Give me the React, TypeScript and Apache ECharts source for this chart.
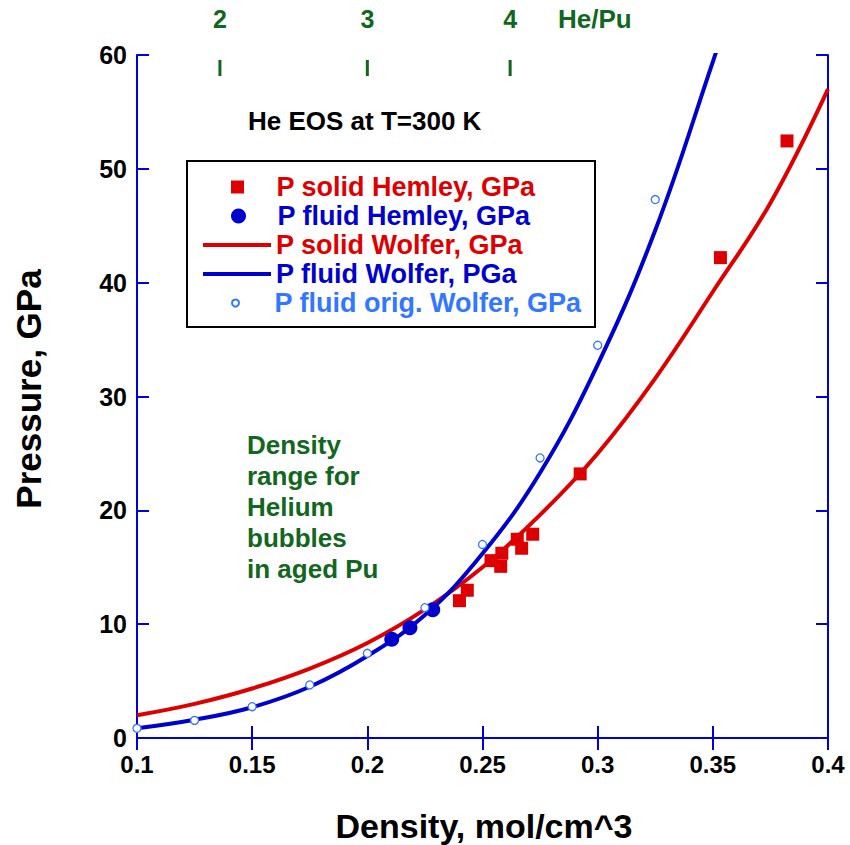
import React, { useEffect, useRef } from 'react';
import * as echarts from 'echarts';

// ---- data ----
const solidHemleyDensity = [0.24, 0.2434, 0.2537, 0.2579, 0.2584, 0.2651, 0.267, 0.2718, 0.2924, 0.3533, 0.3822];
const solidHemleyPressure = [12.06, 12.98, 15.58, 15.08, 16.23, 17.46, 16.67, 17.9, 23.2, 42.2, 52.45];

const fluidHemleyDensity = [0.2106, 0.2185, 0.2284];
const fluidHemleyPressure = [8.67, 9.69, 11.27];

const solidWolferDensity = [0.1, 0.125, 0.15, 0.175, 0.2, 0.225, 0.25, 0.275, 0.3, 0.325, 0.35, 0.375, 0.4];
const solidWolferPressure = [2.0, 3.0, 4.35, 6.1, 8.35, 11.3, 15.0, 19.6, 25.0, 31.6, 39.2, 47.0, 57.0];

const fluidWolferDensity = [0.1, 0.125, 0.15, 0.175, 0.2, 0.225, 0.25, 0.275, 0.3, 0.325, 0.35, 0.355];
const fluidWolferPressure = [0.85, 1.6, 2.7, 4.5, 7.2, 10.8, 16.2, 23.3, 32.8, 44.6, 59.4, 62.5];

const origWolferDensity = [0.1, 0.125, 0.15, 0.175, 0.2, 0.225, 0.25, 0.275, 0.3, 0.325];
const origWolferPressure = [0.85, 1.55, 2.75, 4.66, 7.44, 11.45, 17.0, 24.6, 34.5, 47.3];

const heRatio = [2, 3, 4];
const heRatioDensity = [0.136, 0.2, 0.262];

const seriesNames = [
  'P solid Hemley, GPa',
  'P fluid Hemley, GPa',
  'P solid Wolfer, GPa',
  'P fluid Wolfer, PGa',
  'P fluid orig. Wolfer, GPa',
];

const RED = '#dd0000';
const BLUE = '#0000cc';
const LIGHT = '#3377ff';
const GREEN = '#12661e';
const AXIS = '#0000dd';
const FONT = '"Liberation Sans", Arial, Helvetica, sans-serif';

const zip = (xs: number[], ys: number[]) => xs.map((x, i) => [x, ys[i]]);

export default function App() {
  const ref = useRef<HTMLDivElement>(null);

  useEffect(() => {
    const chart = echarts.init(ref.current!, null, { renderer: 'svg' });

    const legendSpec = [
      { name: seriesNames[0], color: RED, h: 13, center: 187, icon: 'path://M0 0h10v10h-10z', left: 231 },
      { name: seriesNames[1], color: BLUE, h: 15, center: 216, icon: 'circle', left: 231 },
      { name: seriesNames[2], color: RED, h: 4, center: 245, icon: 'rect', left: 203 },
      { name: seriesNames[3], color: BLUE, h: 4, center: 274, icon: 'rect', left: 203 },
      { name: seriesNames[4], color: LIGHT, h: 7, center: 303, icon: 'circle', left: 231 },
    ];

    const axisCommon = {
      axisLine: { show: true, lineStyle: { color: AXIS, width: 2 } },
      axisTick: { show: true, inside: true, length: 12, lineStyle: { color: AXIS, width: 2 } },
      splitLine: { show: false },
    };

    const option: any = {
      animation: false,
      backgroundColor: '#ffffff',
      textStyle: { fontFamily: FONT },
      grid: { left: 137, right: 22, top: 55, bottom: 107, containLabel: false },
      xAxis: [
        {
          type: 'value', position: 'bottom', min: 0.1, max: 0.4, interval: 0.05,
          ...axisCommon,
          axisLabel: { color: '#000', fontSize: 24, fontWeight: 'bold', fontFamily: FONT, margin: 14 },
        },
        {
          type: 'value', position: 'top', min: 0.1, max: 0.4, interval: 0.05,
          ...axisCommon,
          axisLabel: { show: false },
        },
      ],
      yAxis: [
        {
          type: 'value', position: 'left', min: 0, max: 60, interval: 10,
          ...axisCommon,
          axisLabel: { color: '#000', fontSize: 25, fontWeight: 'bold', fontFamily: FONT, margin: 10 },
        },
        {
          type: 'value', position: 'right', min: 0, max: 60, interval: 10,
          ...axisCommon,
          axisLabel: { show: false },
        },
      ],
      legend: legendSpec.map((l) => ({
        data: [{ name: l.name, icon: l.icon }],
        left: l.left,
        top: l.center - 14,
        padding: 0,
        itemWidth: 68,
        itemHeight: l.h,
        symbolKeepAspect: true,
        selectedMode: false,
        z: 5,
        textStyle: { color: l.color, fontSize: 27, fontWeight: 'bold', fontFamily: FONT, lineHeight: 28 },
      })),
      graphic: [
        {
          type: 'rect', z: 3,
          shape: { x: 187, y: 161, width: 408, height: 166 },
          style: { fill: '#ffffff', stroke: '#000000', lineWidth: 2 },
        },
        {
          type: 'text', x: 248, y: 121,
          style: { text: 'He EOS at T=300 K', fill: '#000', fontSize: 26, fontWeight: 'bold', fontFamily: FONT, align: 'left', verticalAlign: 'middle' },
        },
        {
          type: 'text', x: 558, y: 19,
          style: { text: 'He/Pu', fill: GREEN, fontSize: 26, fontWeight: 'bold', fontFamily: FONT, align: 'left', verticalAlign: 'middle' },
        },
        {
          type: 'text', x: 247, y: 429,
          style: {
            text: 'Density\nrange for\nHelium\nbubbles\nin aged Pu',
            fill: GREEN, fontSize: 26, fontWeight: 'bold', fontFamily: FONT, lineHeight: 31,
            align: 'left', verticalAlign: 'top',
          },
        },
        {
          type: 'text', x: 484, y: 826,
          style: { text: 'Density, mol/cm^3', fill: '#000', fontSize: 34, fontWeight: 'bold', fontFamily: FONT, align: 'center', verticalAlign: 'middle' },
        },
        {
          type: 'text', x: 28, y: 389, rotation: Math.PI / 2,
          style: { text: 'Pressure, GPa', fill: '#000', fontSize: 35, fontWeight: 'bold', fontFamily: FONT, align: 'center', verticalAlign: 'middle' },
        },
      ],
      series: [
        {
          name: seriesNames[2], type: 'line', data: zip(solidWolferDensity, solidWolferPressure),
          smooth: 0.4, symbol: 'none', showSymbol: false, clip: true, z: 2,
          lineStyle: { color: RED, width: 4 }, itemStyle: { color: RED },
        },
        {
          name: seriesNames[3], type: 'line', data: zip(fluidWolferDensity, fluidWolferPressure),
          smooth: 0.4, symbol: 'none', showSymbol: false, clip: true, z: 2,
          lineStyle: { color: BLUE, width: 4 }, itemStyle: { color: BLUE },
        },
        {
          name: seriesNames[0], type: 'scatter', data: zip(solidHemleyDensity, solidHemleyPressure),
          symbol: 'rect', symbolSize: 13, z: 3, itemStyle: { color: RED, opacity: 1 },
        },
        {
          name: seriesNames[1], type: 'scatter', data: zip(fluidHemleyDensity, fluidHemleyPressure),
          symbol: 'circle', symbolSize: 15, z: 3, itemStyle: { color: BLUE, opacity: 1 },
        },
        {
          name: seriesNames[4], type: 'scatter', data: zip(origWolferDensity, origWolferPressure),
          symbol: 'circle', symbolSize: 8, z: 4, clip: false,
          itemStyle: { color: '#ffffff', borderColor: LIGHT, borderWidth: 1.3, opacity: 1 },
        },
        {
          type: 'custom', silent: true, z: 5, clip: false,
          data: heRatioDensity.map((d, i) => [d, heRatio[i]]),
          encode: { x: 0 },
          renderItem: (params: any, api: any) => {
            const p = api.coord([api.value(0), 60]);
            return {
              type: 'group',
              children: [
                {
                  type: 'line',
                  shape: { x1: p[0], y1: p[1] + 5, x2: p[0], y2: p[1] + 21 },
                  style: { stroke: GREEN, lineWidth: 3 },
                },
                {
                  type: 'text', x: p[0], y: p[1] - 36,
                  style: {
                    text: String(api.value(1)), fill: GREEN, fontSize: 25, fontWeight: 'bold',
                    fontFamily: FONT, align: 'center', verticalAlign: 'middle',
                  },
                },
              ],
            };
          },
        },
      ],
    };

    chart.setOption(option);
    return () => chart.dispose();
  }, []);

  return <div ref={ref} style={{ position: 'absolute', left: 0, top: 0, width: 850, height: 845 }} />;
}
